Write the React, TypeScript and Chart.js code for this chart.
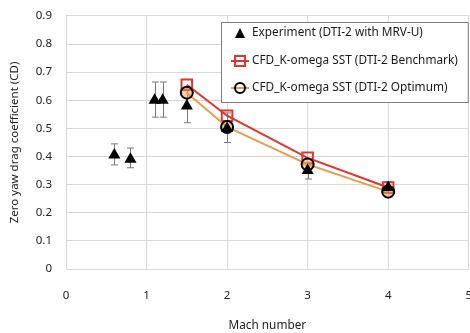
import React, { useEffect, useRef } from "react";
import { Chart, registerables } from "chart.js";

Chart.register(...registerables);

const xTicks = [0, 1, 2, 3, 4, 5];
const expMach = [0.6, 0.8, 1.1, 1.2, 1.5, 2, 3, 4];
const expCd = [0.405, 0.39, 0.6, 0.6, 0.58, 0.5, 0.35, 0.29];
const expLow = [0.37, 0.36, 0.54, 0.54, 0.52, 0.45, 0.32, 0.27];
const expHigh = [0.445, 0.43, 0.665, 0.665, 0.64, 0.555, 0.37, 0.31];
const cfdMach = [1.5, 2, 3, 4];
const benchCd = [0.655, 0.545, 0.395, 0.29];
const optCd = [0.627, 0.505, 0.372, 0.275];

const labels = [
  "Experiment (DTI-2 with MRV-U)",
  "CFD_K-omega SST (DTI-2 Benchmark)",
  "CFD_K-omega SST (DTI-2 Optimum)",
];

const FONT = "'Noto Sans', sans-serif";
const RED = "#e0352b";
const ORANGE = "#eb9a4e";
const SHIFT = 5;

const errorBars = {
  id: "errorBars",
  beforeDatasetsDraw(chart: any) {
    const { ctx, scales } = chart;
    ctx.save();
    ctx.strokeStyle = "#7a7a7a";
    ctx.lineWidth = 1;
    expMach.forEach((m, i) => {
      const x = Math.round(scales.x.getPixelForValue(m)) + 0.5;
      const y1 = scales.y.getPixelForValue(expLow[i]);
      const y2 = scales.y.getPixelForValue(expHigh[i]);
      ctx.beginPath();
      ctx.moveTo(x, y1);
      ctx.lineTo(x, y2);
      ctx.moveTo(x - 3.5, y1);
      ctx.lineTo(x + 3.5, y1);
      ctx.moveTo(x - 3.5, y2);
      ctx.lineTo(x + 3.5, y2);
      ctx.stroke();
    });
    ctx.restore();
  },
};

const boxLegend = {
  id: "boxLegend",
  afterDraw(chart: any) {
    const { ctx, chartArea } = chart;
    ctx.save();
    ctx.font = `11.8px ${FONT}`;
    const right = chartArea.right;
    const left = 221;
    const top = 22 + SHIFT;
    const bottom = 103 + SHIFT;
    ctx.fillStyle = "#ffffff";
    ctx.fillRect(left, top, right - left, bottom - top);
    ctx.strokeStyle = "#7f7f7f";
    ctx.lineWidth = 1;
    ctx.strokeRect(left + 0.5, top + 0.5, right - left - 1, bottom - top - 1);
    const rows = [33 + SHIFT, 61 + SHIFT, 88 + SHIFT];
    const mx = 240;
    ctx.fillStyle = "#000";
    ctx.beginPath();
    ctx.moveTo(mx, rows[0] - 5);
    ctx.lineTo(mx + 5, rows[0] + 5);
    ctx.lineTo(mx - 5, rows[0] + 5);
    ctx.closePath();
    ctx.fill();
    ctx.strokeStyle = RED;
    ctx.lineWidth = 2;
    ctx.beginPath();
    ctx.moveTo(mx - 9, rows[1]);
    ctx.lineTo(mx + 9, rows[1]);
    ctx.stroke();
    ctx.strokeRect(mx - 5, rows[1] - 5, 10, 10);
    ctx.strokeStyle = ORANGE;
    ctx.beginPath();
    ctx.moveTo(mx - 9, rows[2]);
    ctx.lineTo(mx + 9, rows[2]);
    ctx.stroke();
    ctx.strokeStyle = "#000";
    ctx.beginPath();
    ctx.arc(mx, rows[2], 5, 0, Math.PI * 2);
    ctx.stroke();
    ctx.fillStyle = "#1a1a1a";
    ctx.textBaseline = "middle";
    labels.forEach((t, i) => ctx.fillText(t, 252, rows[i]));
    ctx.restore();
  },
};

export default function App() {
  const ref = useRef<HTMLCanvasElement>(null);
  useEffect(() => {
    document.body.style.margin = "0";
    const chart = new Chart(ref.current!, {
      type: "scatter",
      data: {
        datasets: [
          {
            label: labels[0],
            data: expMach.map((x, i) => ({ x, y: expCd[i] })),
            pointStyle: "triangle",
            pointRadius: 7,
            backgroundColor: "#000",
            borderColor: "#000",
            borderWidth: 0,
            showLine: false,
            order: 0,
          },
          {
            label: labels[1],
            data: cfdMach.map((x, i) => ({ x, y: benchCd[i] })),
            pointStyle: "rect",
            pointRadius: 7.5,
            backgroundColor: "rgba(255,255,255,0)",
            borderColor: RED,
            pointBorderWidth: 2,
            borderWidth: 2,
            showLine: true,
            order: 2,
          },
          {
            label: labels[2],
            data: cfdMach.map((x, i) => ({ x, y: optCd[i] })),
            pointStyle: "circle",
            pointRadius: 6,
            backgroundColor: "rgba(235,154,78,0.5)",
            borderColor: ORANGE,
            pointBorderColor: "#000",
            pointBorderWidth: 2,
            borderWidth: 2,
            showLine: true,
            order: 1,
          },
        ],
      },
      options: {
        animation: false,
        responsive: false,
        layout: { padding: { top: 0, left: 0, right: 0, bottom: 0 } },
        plugins: { legend: { display: false }, tooltip: { enabled: false } },
        scales: {
          x: {
            type: "linear",
            min: 0,
            max: 5,
            afterBuildTicks: (s: any) => {
              s.ticks = xTicks.map((v) => ({ value: v }));
            },
            afterFit: (s: any) => {
              s.height = 64;
            },
            grid: { color: "#d9d9d9", tickLength: 0 },
            border: { color: "#d9d9d9" },
            ticks: { padding: 20, color: "#222", font: { family: FONT, size: 11.5 } },
            title: {
              display: true,
              text: "Mach number",
              color: "#222",
              font: { family: FONT, size: 11.8 },
              padding: { top: 12, bottom: 0 },
            },
          },
          y: {
            min: 0,
            max: 0.9,
            afterFit: (s: any) => {
              s.width = 66;
            },
            ticks: {
              stepSize: 0.1,
              padding: 14,
              color: "#222",
              font: { family: FONT, size: 11.5 },
              callback: (v: any) => (Math.round(Number(v) * 10) / 10).toString(),
            },
            grid: { color: "#d9d9d9", tickLength: 0 },
            border: { color: "#d9d9d9" },
            title: {
              display: true,
              text: "Zero yaw drag coefficient (CD)",
              color: "#222",
              font: { family: FONT, size: 11.5 },
              padding: { top: 8, bottom: 0 },
            },
          },
        },
      },
      plugins: [errorBars, boxLegend],
    });
    return () => chart.destroy();
  }, []);
  return (
    <div style={{ width: 470, height: 333, overflow: "hidden", position: "relative", background: "#fff" }}>
      <canvas ref={ref} width={492} height={333 + SHIFT} style={{ position: "absolute", left: 0, top: -SHIFT }} />
    </div>
  );
}
